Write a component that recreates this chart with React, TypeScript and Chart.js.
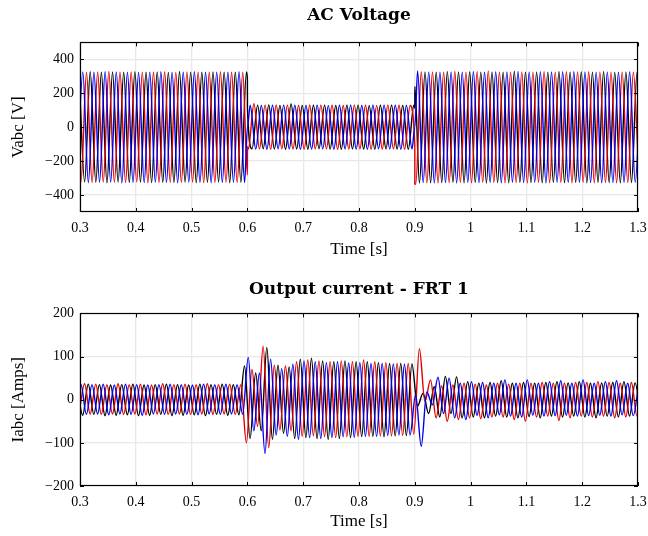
import React, { useEffect, useRef } from 'react';
import { Chart, registerables } from 'chart.js';

Chart.register(...registerables);

// ---------- axes ----------
const X_TICKS = [0.3, 0.4, 0.5, 0.6, 0.7, 0.8, 0.9, 1.0, 1.1, 1.2, 1.3];
const VOLT_Y_TICKS = [-400, -200, 0, 200, 400];
const CURR_Y_TICKS = [-200, -100, 0, 100, 200];

// ---------- sampling grid: one value per half-cycle extremum (50 Hz) ----------
const HALF_PERIOD = 0.01;

// ---------- AC voltage: half-cycle peak values per phase ----------
const VOLT_T0_BLACK = 0.29833;
const VOLT_T0_RED = 0.29167;
const VOLT_T0_BLUE = 0.295;

const VOLT_BLACK = [
  325, -322, 327, -325, 324, -328, 326, -324, 325, -326, 327, -323, 324, -327, 326, -325, 323, -326, 328, -324,
  325, -327, 324, -325, 326, -323, 325, -327, 324, -325, 326,
  -128, 130, -127, 131, -129, 128, -130, 137, -129, 128, -130, 129, -127, 130, -129, 128, -130, 129, -128, 130,
  -129, 127, -130, 129, -128, 130, -129, 128, -130, 129,
  -330, 326, -328, 325, -327, 329, -325, 326, -328, 327, -326, 325, -329, 326, -327, 325, -328, 330, -326, 325,
  -327, 326, -328, 325, -326, 328, -327, 325, -326, 327, -328, 325, -326, 329, -327, 325, -328, 326, -327, 325, -326,
];
const VOLT_RED = [
  325, -326, 323, -327, 326, -324, 328, -325, 324, -327, 326, -323, 325, -328, 324, -326, 327, -325, 323, -327,
  326, -324, 325, -327, 324, -326, 327, -325, 324, -326, 325,
  -129, 138, -128, 130, -130, 129, -127, 130, -129, 128, -130, 129, -128, 130, -127, 129, -130, 128, -129, 130,
  -128, 129, -130, 127, -129, 130, -128, 129, -130, 128,
  -336, 327, -328, 326, -329, 325, -327, 330, -326, 325, -328, 327, -325, 332, -327, 326, -328, 325, -327, 326,
  -329, 325, -326, 328, -327, 325, -326, 327, -328, 326, -325, 327, -328, 326, -327, 325, -328, 326, -327, 325, -326,
];
const VOLT_BLUE = [
  -325, 326, -327, 324, -325, 327, -324, 326, -328, 325, -326, 323, -327, 325, -324, 327, -326, 325, -328, 324,
  -325, 327, -326, 324, -327, 325, -326, 324, -325, 327, -326,
  130, -129, 128, -130, 129, -127, 130, -128, 129, -130, 128, -129, 130, -128, 127, -130, 129, -128, 130, -129,
  128, -130, 129, -127, 130, -128, 129, -130, 128, -129,
  331, -327, 326, -328, 325, -327, 326, -329, 325, -326, 328, -327, 325, -326, 327, -328, 326, -325, 328, -327,
  326, -325, 327, -328, 326, -325, 327, -326, 328, -325, 326, -327, 325, -328, 326, -327, 325, -326, 327, -325, 326,
];
// instantaneous values just before / after the voltage steps
const STEP_TIMES = [0.6, 0.9];
const VOLT_STEP_BLACK = [[281, 113], [113, 240]];
const VOLT_STEP_RED = [[-281, -113], [-113, -335]];
const VOLT_STEP_BLUE = [[0, 0], [0, 0]];

// ---------- output current: half-cycle peak values per phase ----------
const CURR_T0_BLUE = 0.2915;
const CURR_T0_RED = 0.2982;
const CURR_T0_BLACK = 0.2948;

const CURR_BLUE = [
  -33, 36, -34, 35, -33, 36, -35, 34, -33, 36, -34, 35, -36, 34, -33, 35, -34, 36, -33, 35,
  -34, 34, -35, 36, -33, 35, -34, 36, -33, 35, -34,
  98, -72, 62, -125, 94, -82, 72, -85, 82, -92, 90, -88, 88, -90, 86, -88, 88, -86, 85, -87,
  86, -85, 84, -85, 84, -83, 83, -82, 82, -82,
  12, -108, 18, -12, 52, -32, 50, -42, 38, -46, 42, -36, 40, -42, 38, -35, 46, -38, 38, -40,
  46, -36, 38, -38, 42, -37, 44, -36, 38, -38, 46, -37, 38, -36, 42, -38, 44, -35, 38, -37, 40,
];
const CURR_RED = [
  -34, 37, -33, 36, -34, 35, -33, 37, -34, 35, -33, 36, -35, 34, -33, 37, -34, 35, -33, 36,
  -34, 35, -33, 37, -34, 35, -33, 36, -34, 35, -100,
  70, -62, 124, -111, 80, -70, 78, -72, 88, -85, 92, -84, 90, -86, 88, -88, 90, -86, 88, -85,
  92, -85, 88, -84, 86, -84, 84, -83, 84, -80,
  118, -4, 46, -42, 32, -50, 34, -46, 38, -42, 36, -44, 34, -40, 38, -40, 36, -46, 38, -50,
  38, -40, 40, -38, 38, -48, 38, -42, 40, -38, 40, -40, 42, -38, 40, -42, 38, -40, 40, -38, 38,
];
const CURR_BLACK = [
  35, -36, 36, -34, 35, -37, 34, -36, 35, -35, 36, -37, 34, -36, 35, -34, 36, -37, 35, -36,
  34, -35, 36, -37, 35, -34, 36, -36, 35, -35, 78,
  -90, 62, -72, 121, -92, 80, -78, 76, -90, 94, -88, 96, -90, 90, -92, 88, -90, 90, -88, 88,
  -86, 88, -85, 86, -86, 84, -84, 84, -83, 83,
  -15, 15, -32, 30, -40, 54, -32, 53, -42, 42, -40, 38, -42, 40, -38, 44, -40, 38, -42, 40,
  -39, 38, -42, 40, -38, 42, -40, 39, -38, 42, -40, 38, -42, 39, -38, 40, -40, 42, -38, 39, -40,
];

// ---------- colours ----------
const COLOR_BLACK = '#000000';
const COLOR_RED = '#e00000';
const COLOR_BLUE = '#0000f0';

type Pt = { x: number; y: number };

function buildSeries(t0: number, peaks: number[], steps?: number[][]): Pt[] {
  const pts: Pt[] = peaks.map((v, k) => ({ x: t0 + k * HALF_PERIOD, y: v }));
  if (steps) {
    STEP_TIMES.forEach((t, i) => {
      pts.push({ x: t, y: steps[i][0] });
      pts.push({ x: t + 0.00008, y: steps[i][1] });
    });
  }
  pts.sort((a, b) => a.x - b.x);
  return pts;
}

const TITLE_FONT_FAMILY = "'DejaVu Serif', serif";
const TEXT_FAMILY = "'Liberation Serif', serif";
const TICK_FONT = { family: TEXT_FAMILY, size: 14 };
const AXIS_TITLE_FONT = { family: TEXT_FAMILY, size: 17 };

const framePlugin = {
  id: 'frame',
  afterDatasetsDraw(chart: any) {
    const { ctx, chartArea: a, scales } = chart;
    const x = scales.x;
    const y = scales.y;
    ctx.save();
    ctx.strokeStyle = '#000';
    ctx.lineWidth = 1;
    ctx.beginPath();
    x.ticks.forEach((t: any) => {
      const px = Math.round(x.getPixelForValue(t.value)) + 0.5;
      ctx.moveTo(px, a.bottom);
      ctx.lineTo(px, a.bottom - 4);
      ctx.moveTo(px, a.top);
      ctx.lineTo(px, a.top + 4);
    });
    y.ticks.forEach((t: any) => {
      const py = Math.round(y.getPixelForValue(t.value)) + 0.5;
      ctx.moveTo(a.left, py);
      ctx.lineTo(a.left + 4, py);
      ctx.moveTo(a.right, py);
      ctx.lineTo(a.right - 4, py);
    });
    ctx.stroke();
    ctx.lineWidth = 1.2;
    ctx.strokeRect(Math.round(a.left) + 0.5, Math.round(a.top) + 0.5, Math.round(a.width) - 1, Math.round(a.height) - 1);
    ctx.restore();
  },
};

function fmtY(v: number) {
  return v < 0 ? '\u2212' + Math.abs(v) : String(v);
}
function fmtX(v: number) {
  return String(Number(v.toFixed(1)));
}

interface PanelSpec {
  title: string;
  yTitle: string;
  yMin: number;
  yMax: number;
  yTicks: number[];
  series: { data: Pt[]; color: string; order: number }[];
  titlePad: { top: number; bottom: number };
  xHeight: number;
  xTitlePadBottom: number;
  xTickPad: number;
}

function makeChart(canvas: HTMLCanvasElement, spec: PanelSpec) {
  return new Chart(canvas, {
    type: 'line',
    data: {
      datasets: spec.series.map((s) => ({
        data: s.data,
        borderColor: s.color,
        backgroundColor: s.color,
        borderWidth: 1.4,
        pointRadius: 0,
        cubicInterpolationMode: 'monotone' as const,
        fill: false,
        order: s.order,
        clip: 0,
      })),
    },
    options: {
      responsive: false,
      animation: false,
      events: [],
      layout: { padding: { left: 0, right: 10, top: 0, bottom: 0 } },
      plugins: {
        legend: { display: false },
        tooltip: { enabled: false },
        title: {
          display: true,
          fullSize: false,
          text: spec.title,
          color: '#000',
          font: { family: TITLE_FONT_FAMILY, size: 17, weight: 'bold' },
          padding: spec.titlePad,
        },
      },
      scales: {
        x: {
          type: 'linear',
          min: 0.3,
          max: 1.3,
          afterBuildTicks: (scale: any) => {
            scale.ticks = X_TICKS.map((v) => ({ value: v }));
          },
          afterFit: (scale: any) => {
            scale.height = spec.xHeight;
            scale.paddingLeft = 0;
            scale.paddingRight = 0;
          },
          ticks: {
            color: '#000',
            font: TICK_FONT,
            maxRotation: 0,
            autoSkip: false,
            padding: spec.xTickPad,
            callback: (v: any) => fmtX(Number(v)),
          },
          grid: { color: '#e8e8e8', lineWidth: 1.3, drawTicks: false },
          border: { display: false },
          title: {
            display: true,
            text: 'Time [s]',
            color: '#000',
            font: AXIS_TITLE_FONT,
            padding: { top: 0, bottom: spec.xTitlePadBottom },
          },
        },
        y: {
          type: 'linear',
          min: spec.yMin,
          max: spec.yMax,
          afterBuildTicks: (scale: any) => {
            scale.ticks = spec.yTicks.map((v) => ({ value: v }));
          },
          afterFit: (scale: any) => {
            scale.width = 80;
            scale.paddingTop = 0;
            scale.paddingBottom = 0;
          },
          ticks: {
            color: '#000',
            font: TICK_FONT,
            padding: 6,
            autoSkip: false,
            callback: (v: any) => fmtY(Number(v)),
          },
          grid: { color: '#e8e8e8', lineWidth: 1.3, drawTicks: false },
          border: { display: false },
          title: {
            display: true,
            text: spec.yTitle,
            color: '#000',
            font: AXIS_TITLE_FONT,
            padding: { top: 8, bottom: 0 },
          },
        },
      },
    },
    plugins: [framePlugin],
  } as any);
}

function Panel({ spec, top }: { spec: PanelSpec; top: number }) {
  const ref = useRef<HTMLCanvasElement | null>(null);
  useEffect(() => {
    if (!ref.current) return;
    const chart = makeChart(ref.current, spec);
    return () => chart.destroy();
  }, []);
  return (
    <canvas
      ref={ref}
      width={648}
      height={268}
      style={{ position: 'absolute', left: 0, top, width: 648, height: 268 }}
    />
  );
}

export default function App() {
  const voltSpec: PanelSpec = {
    title: 'AC Voltage',
    yTitle: 'Vabc [V]',
    yMin: -500,
    yMax: 500,
    yTicks: VOLT_Y_TICKS,
    series: [
      { data: buildSeries(VOLT_T0_BLACK, VOLT_BLACK, VOLT_STEP_BLACK), color: COLOR_BLACK, order: 3 },
      { data: buildSeries(VOLT_T0_RED, VOLT_RED, VOLT_STEP_RED), color: COLOR_RED, order: 2 },
      { data: buildSeries(VOLT_T0_BLUE, VOLT_BLUE, VOLT_STEP_BLUE), color: COLOR_BLUE, order: 1 },
    ],
    titlePad: { top: 5, bottom: 17 },
    xHeight: 56,
    xTitlePadBottom: 8,
    xTickPad: 8,
  };
  const currSpec: PanelSpec = {
    title: 'Output current - FRT 1',
    yTitle: 'Iabc [Amps]',
    yMin: -200,
    yMax: 200,
    yTicks: CURR_Y_TICKS,
    series: [
      { data: buildSeries(CURR_T0_BLACK, CURR_BLACK), color: COLOR_BLACK, order: 3 },
      { data: buildSeries(CURR_T0_RED, CURR_RED), color: COLOR_RED, order: 2 },
      { data: buildSeries(CURR_T0_BLUE, CURR_BLUE), color: COLOR_BLUE, order: 1 },
    ],
    titlePad: { top: 11, bottom: 14 },
    xHeight: 50,
    xTitlePadBottom: 4,
    xTickPad: 8,
  };
  return (
    <div style={{ position: 'absolute', left: 0, top: 0, width: 648, height: 536, background: '#fff' }}>
      <Panel spec={voltSpec} top={0} />
      <Panel spec={currSpec} top={268} />
    </div>
  );
}
